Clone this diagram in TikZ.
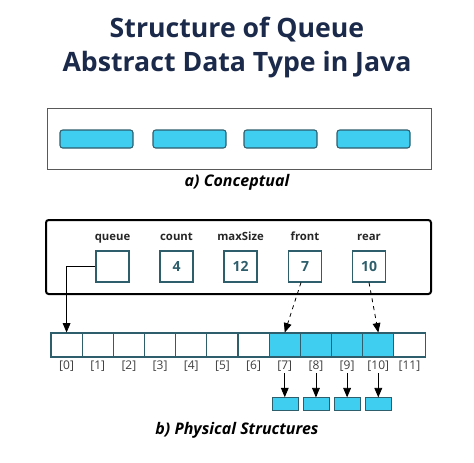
\documentclass[tikz,border=0pt]{standalone}
\usepackage{fontspec}
\setmainfont{Open Sans}
\usetikzlibrary{positioning,arrows}
\definecolor{navy}{HTML}{1B2A4A}
\definecolor{qcyan}{HTML}{3FCDF0}
\definecolor{qteal}{HTML}{2E5E6C}

\begin{document}
\begin{tikzpicture}[x=0.75pt,y=-0.75pt,
      title/.style={anchor=base,text=navy,font=\bfseries\fontsize{20}{24}\selectfont},
      pill/.style={rectangle,rounded corners=2pt,draw=qteal,thick,fill=qcyan,
                   minimum width=54.75pt,minimum height=13.5pt,inner sep=0pt},
      var/.style={rectangle,draw=qteal,thick,minimum width=24.75pt,minimum height=23.25pt,
                  inner sep=0pt,text=qteal,font=\bfseries\fontsize{10.5}{12}\selectfont},
      varname/.style={anchor=base,text=black!85,font=\bfseries\fontsize{8.5}{10}\selectfont},
      cell/.style={rectangle,draw=qteal,thick,minimum width=23.38pt,minimum height=18pt,inner sep=0pt},
      full/.style={cell,fill=qcyan},
      idx/.style={inner sep=1pt,text=black!75,font=\fontsize{9}{10}\selectfont},
      elem/.style={rectangle,draw=qteal,fill=qcyan,minimum width=19.5pt,minimum height=9.75pt,inner sep=0pt},
      caption/.style={anchor=base,font=\bfseries\itshape\fontsize{12}{14}\selectfont},
      single/.style={draw,line width=0.6pt,-triangle 45},
      pointer/.style={draw,line width=0.6pt,dashed,-triangle 45},
    ]
      \useasboundingbox (0,0) rectangle (474,462);
      % title
      \node[title] (title1) at (237,37) {Structure of Queue};
      \node[title] (title2) at (237,71) {Abstract Data Type in Java};
      % a) conceptual
      \node[draw=black!65,minimum width=288pt,minimum height=45.75pt] (concept) at (239,138.5) {};
      \node[pill] (p1) at (96.5,139) {};
      \node[pill] (p2) at (189.5,139) {};
      \node[pill] (p3) at (280.5,139) {};
      \node[pill] (p4) at (373.5,139) {};
      \node[caption] (capa) at (237,186) {a) Conceptual};
      % b) physical
      \node[draw=black,line width=1.5pt,rounded corners=2pt,minimum width=288.75pt,
            minimum height=55.5pt] (head) at (238.5,257) {};
      \node[var] (qbox) at (112.5,266.5) {};
      \node[var] (cbox) at (176.5,266.5) {4};
      \node[var] (mbox) at (240.5,266.5) {12};
      \node[var] (fbox) at (305,266.5) {7};
      \node[var] (rbox) at (369,266.5) {10};
      \node[varname] (qname) at (112.5,240) {queue};
      \node[varname] (cname) at (176.5,240) {count};
      \node[varname] (mname) at (240.5,240) {maxSize};
      \node[varname] (fname) at (305,240) {front};
      \node[varname] (rname) at (369,240) {rear};
      % array
      \foreach \i in {0,...,11} {
        \ifnum\i<7 \def\kind{cell}\else\ifnum\i>10 \def\kind{cell}\else\def\kind{full}\fi\fi
        \node[\kind] (c\i) at (66.58+31.17*\i,345) {};
        \node[idx,below=1.5pt of c\i] (i\i) {[\i]};
      }
      \foreach \i in {7,...,10} {
        \node[elem,below=18pt of i\i] (e\i) {};
        \path (i\i) edge[single] (e\i);
      }
      \node[caption] (capb) at (237,434) {b) Physical Structures};
      % pointers
      \draw[single] (qbox.west) -| (c0.north);
      \path ([xshift=-3pt]fbox.south) edge[pointer] (c7.north);
      \path (rbox.south) edge[pointer] (c10.north);
    \end{tikzpicture}
\end{document}
